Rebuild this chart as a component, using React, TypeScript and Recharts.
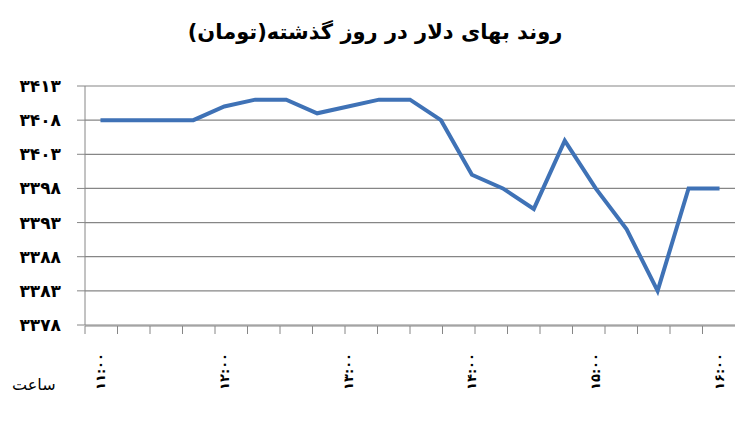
import React from 'react'
import { LineChart, Line, XAxis, YAxis, CartesianGrid } from 'recharts'

const times = [
  '11:00', '11:15', '11:30', '11:45',
  '12:00', '12:15', '12:30', '12:45',
  '13:00', '13:15', '13:30', '13:45',
  '14:00', '14:15', '14:30', '14:45',
  '15:00', '15:15', '15:30', '15:45',
  '16:00'
]
const prices = [
  3408, 3408, 3408, 3408,
  3410, 3411, 3411, 3409,
  3410, 3411, 3411, 3408,
  3400, 3398, 3395, 3405,
  3398, 3392, 3383, 3398,
  3398
]
const hourLabels = ['11:00', '12:00', '13:00', '14:00', '15:00', '16:00']
const yTicks = [3378, 3383, 3388, 3393, 3398, 3403, 3408, 3413]
const slotCount = times.length

const chartData = times.map((t, i) => ({ time: t, price: prices[i] }))
const slotEdges = Array.from({ length: slotCount + 1 }, (_, i) => i)

// persian digits for labels
const fa = (s: string | number) =>
  String(s).replace(/[0-9]/g, d => '۰۱۲۳۴۵۶۷۸۹'[Number(d)])

const FONT = '"DejaVu Sans", sans-serif'
const GRID = '#868686'
// plot is 650px wide, half a slot on each side
const HALF_SLOT = 650 / (2 * slotCount)

const HourTick = (props: any) => {
  const { x, y, payload } = props
  if (!hourLabels.includes(payload.value)) return <g />
  return (
    <text
      x={x}
      y={y}
      transform={`rotate(-90, ${x}, ${y})`}
      textAnchor="end"
      dominantBaseline="central"
      fontFamily={FONT}
      fontSize={13}
      fontWeight="bold"
      fill="#000"
    >
      {fa(payload.value)}
    </text>
  )
}

export default function App() {
  return (
    <div style={{ position: 'absolute', left: 0, top: 0, width: 750, height: 447, background: '#fff' }}>
      <div
        style={{
          position: 'absolute', left: 0, top: 20, width: 750, textAlign: 'center',
          fontFamily: FONT, fontSize: 21, fontWeight: 'bold', direction: 'rtl'
        }}
      >
        روند بهای دلار در روز گذشته(تومان)
      </div>
      <div
        style={{
          position: 'absolute', left: 12, top: 375, fontFamily: FONT, fontSize: 16, direction: 'rtl'
        }}
      >
        ساعت
      </div>
      <LineChart
        width={750}
        height={447}
        data={chartData}
        margin={{ top: 86, right: 15, left: 5, bottom: 111 }}
      >
        <CartesianGrid vertical={false} stroke={GRID} strokeWidth={1.2} />
        <XAxis
          dataKey="time"
          interval={0}
          height={1}
          axisLine={false}
          tickLine={false}
          tick={<HourTick />}
          tickMargin={22}
          padding={{ left: HALF_SLOT, right: HALF_SLOT }}
        />
        <XAxis
          xAxisId="edges"
          type="number"
          domain={[0, slotCount]}
          ticks={slotEdges}
          allowDataOverflow
          height={10}
          tickSize={8}
          stroke={GRID}
          tick={() => <g />}
        />
        <YAxis
          domain={[3378, 3413]}
          ticks={yTicks}
          width={80}
          interval={0}
          tickSize={8}
          tickMargin={16}
          stroke={GRID}
          tick={{ fill: '#000', fontFamily: FONT, fontSize: 17, fontWeight: 'bold' }}
          tickFormatter={v => fa(v)}
        />
        <Line
          dataKey="price"
          stroke="#3f72b6"
          strokeWidth={4}
          dot={false}
          isAnimationActive={false}
          strokeLinejoin="miter"
        />
      </LineChart>
    </div>
  )
}
